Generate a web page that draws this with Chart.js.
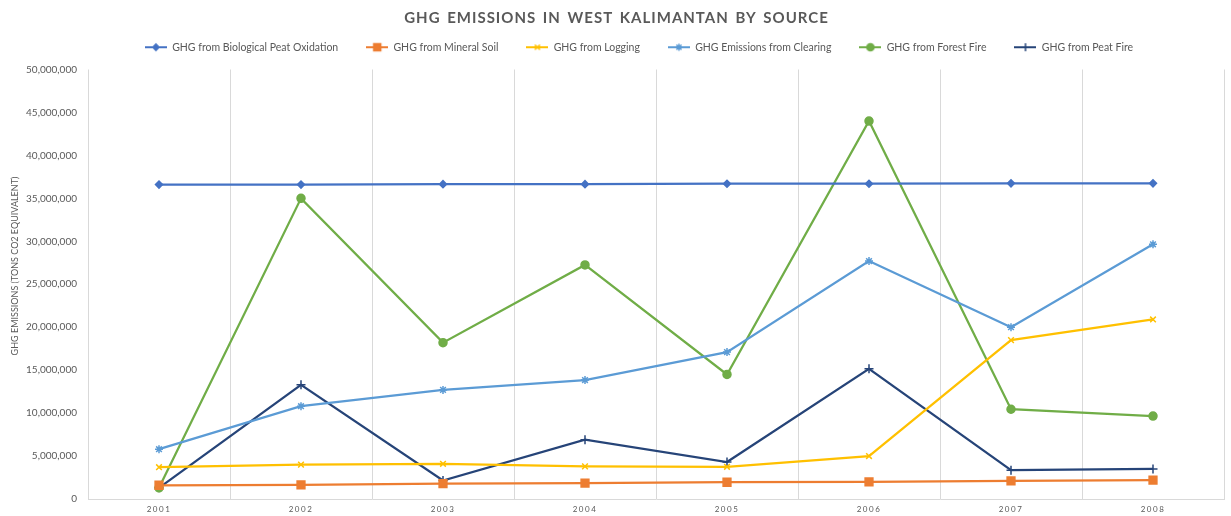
<!DOCTYPE html>
<html>
<head>
<meta charset="utf-8">
<script src="https://cdn.jsdelivr.net/npm/chart.js@4/dist/chart.umd.min.js"></script>
<style>
  html, body { margin: 0; padding: 0; background: #fff; }
  #contenido { width: 1231px; height: 516px; position: relative; }
</style>
</head>
<body>
<div id="contenido"><canvas id="myChart"></canvas></div>
<script>
var titulo = "GHG EMISSIONS IN WEST KALIMANTAN BY SOURCE";
var tituloEje = "GHG EMISSIONS (TONS CO2 EQUIVALENT)";
var years = ["2001", "2002", "2003", "2004", "2005", "2006", "2007", "2008"];

var peatOxidation = [36600000, 36600000, 36650000, 36650000, 36700000, 36700000, 36750000, 36750000];
var mineralSoil   = [1600000, 1650000, 1800000, 1850000, 1950000, 2000000, 2100000, 2200000];
var logging       = [3700000, 4000000, 4100000, 3800000, 3750000, 5000000, 18500000, 20900000];
var clearing      = [5800000, 10800000, 12700000, 13850000, 17100000, 27700000, 20000000, 29650000];
var forestFire    = [1300000, 35000000, 18200000, 27250000, 14500000, 44000000, 10450000, 9650000];
var peatFire      = [1300000, 13300000, 2150000, 6900000, 4300000, 15150000, 3350000, 3500000];

var yTicks = [0, 5000000, 10000000, 15000000, 20000000, 25000000, 30000000, 35000000, 40000000, 45000000, 50000000];

var nombres = ["GHG from Biological Peat Oxidation", "GHG from Mineral Soil", "GHG from Logging",
               "GHG Emissions from Clearing", "GHG from Forest Fire", "GHG from Peat Fire"];
var colores = ["#4472C4", "#ED7D31", "#FFC000", "#5B9BD5", "#70AD47", "#264478"];
var marcas  = ["rectRot", "rect", "crossRot", "star", "circle", "cross"];
var radios  = [3.5, 5.5, 4, 4, 4, 4.5];
var series  = [peatOxidation, mineralSoil, logging, clearing, forestFire, peatFire];

var gris = "#595959";
var fuente = "Lato";

// icono de la leyenda: linea con la marca en medio
function iconoLeyenda(color, estilo, radio) {
    var c = document.createElement("canvas");
    c.width = 22;
    c.height = 12;
    var g = c.getContext("2d");
    g.strokeStyle = color;
    g.fillStyle = color;
    g.lineWidth = 2;
    g.beginPath();
    g.moveTo(0, 6);
    g.lineTo(22, 6);
    g.stroke();
    g.lineWidth = 1.5;
    Chart.helpers.drawPoint(g, { pointStyle: estilo, radius: radio * 0.9, borderWidth: 1.5, rotation: 0 }, 11, 6);
    return c;
}

var iconos = [];
var datasets = [];
for (var i = 0; i < series.length; i++) {
    iconos.push(iconoLeyenda(colores[i], marcas[i], radios[i]));
    datasets.push({
        label: nombres[i],
        data: series[i],
        borderColor: colores[i],
        backgroundColor: colores[i],
        pointBackgroundColor: colores[i],
        pointBorderColor: colores[i],
        pointStyle: marcas[i],
        pointRadius: radios[i],
        pointBorderWidth: 1.5,
        borderWidth: 2.25,
        tension: 0,
        fill: false
    });
}

// titulo principal y titulo del eje y, mas ajustes de espacio
var tituloPlugin = {
    id: "titulo",
    beforeLayout: function (chart) {
        var lg = chart.legend;
        if (lg && !lg._ajustado) {
            var f = lg.fit;
            lg.fit = function () { f.call(this); this.height += 7; };
            lg._ajustado = true;
        }
    },
    afterLayout: function (chart) {
        var s = chart.scales.x;
        if (s && !s._espaciado) {
            var d = s.drawLabels;
            s.drawLabels = function (area) {
                this.ctx.save();
                this.ctx.letterSpacing = "1.5px";
                d.call(this, area);
                this.ctx.restore();
            };
            s._espaciado = true;
        }
        // la leyenda del original esta algo corrida a la derecha
        if (chart.legend) {
            chart.legend.left += 24;
            chart.legend.right += 24;
        }
    },
    afterDraw: function (chart) {
        var ctx = chart.ctx;
        ctx.save();
        ctx.font = "bold 15px " + fuente;
        ctx.fillStyle = gris;
        ctx.textAlign = "center";
        ctx.textBaseline = "middle";
        ctx.letterSpacing = "1px";
        ctx.wordSpacing = "2px";
        ctx.fillText(titulo, chart.width / 2 + 1, 18);
        ctx.restore();

        ctx.save();
        ctx.font = "9px " + fuente;
        ctx.fillStyle = gris;
        ctx.textAlign = "center";
        ctx.textBaseline = "middle";
        ctx.translate(15, 266);
        ctx.rotate(-Math.PI / 2);
        ctx.fillText(tituloEje, 0, 0);
        ctx.restore();
    }
};

new Chart("myChart", {
    type: "line",
    data: {
        labels: years,
        datasets: datasets
    },
    plugins: [tituloPlugin],
    options: {
        responsive: true,
        maintainAspectRatio: false,
        animation: false,
        layout: { padding: { top: 14, left: 0, right: 1, bottom: 0 } },
        plugins: {
            tooltip: { enabled: false },
            legend: {
                position: "top",
                labels: {
                    usePointStyle: true,
                    pointStyleWidth: 22,
                    boxHeight: 10,
                    padding: 28,
                    color: gris,
                    font: { family: fuente, size: 10.5 },
                    generateLabels: function (chart) {
                        var items = Chart.defaults.plugins.legend.labels.generateLabels(chart);
                        items.forEach(function (it, k) { it.pointStyle = iconos[k]; });
                        return items;
                    }
                }
            }
        },
        scales: {
            x: {
                type: "category",
                offset: true,
                grid: { offset: true, color: "#d9d9d9", drawTicks: false, lineWidth: 1 },
                border: { color: "#d9d9d9" },
                ticks: { color: gris, font: { family: fuente, size: 8 }, padding: 6 },
                afterFit: function (s) { s.height = 17; }
            },
            y: {
                min: 0,
                max: 50000000,
                grid: { display: false, drawTicks: false },
                border: { display: false },
                afterBuildTicks: function (s) { s.ticks = yTicks.map(function (v) { return { value: v }; }); },
                ticks: {
                    color: gris,
                    padding: 11,
                    font: { family: fuente, size: 10 },
                    callback: function (v) { return v.toLocaleString("en-US"); }
                },
                afterFit: function (s) { s.width = 88; }
            }
        }
    }
});
</script>
</body>
</html>
